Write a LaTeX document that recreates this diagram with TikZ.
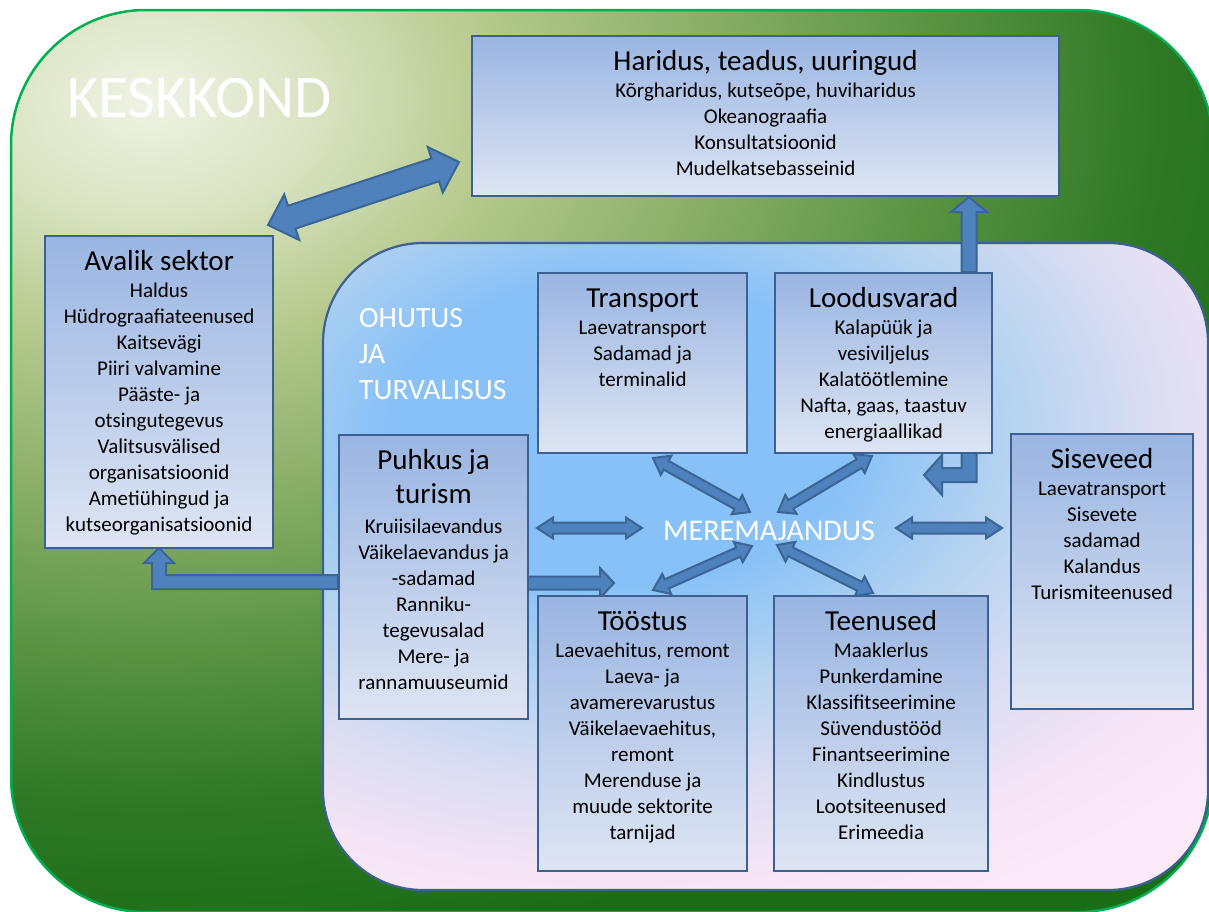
\documentclass[tikz,border=0pt]{standalone}
\usepackage{fontspec}
\setmainfont{Carlito}
\usetikzlibrary{calc}
\definecolor{boxborder}{RGB}{60,96,146}
\definecolor{boxtop}{RGB}{154,181,226}
\definecolor{boxbot}{RGB}{222,229,243}
\definecolor{arrfill}{RGB}{79,129,189}
\definecolor{arrdraw}{RGB}{58,101,149}
\definecolor{outerborder}{RGB}{0,176,80}
\definecolor{ko0}{HTML}{EFF3E4}
\definecolor{ko1}{HTML}{D9E3C2}
\definecolor{ko2}{HTML}{B8CB90}
\definecolor{ko3}{HTML}{8BAF69}
\definecolor{ko4}{HTML}{5A9443}
\definecolor{ko5}{HTML}{2E7825}
\definecolor{ko6}{HTML}{1B6C17}
\definecolor{ib0}{HTML}{88C1F7}
\definecolor{ib1}{HTML}{B5D3F0}
\definecolor{ib2}{HTML}{DCDDF2}
\definecolor{ib3}{HTML}{F3E4F6}
\definecolor{ib4}{HTML}{FCE9F8}
\pgfdeclareradialshading{keskshade}{\pgfpoint{0bp}{0bp}}{%
 color(0bp)=(ko0); color(2.1bp)=(ko1); color(4.2bp)=(ko2); color(7bp)=(ko3);
 color(9.8bp)=(ko4); color(12.6bp)=(ko5); color(15.4bp)=(ko6); color(50bp)=(ko6)}
\pgfdeclareradialshading{innershade}{\pgfpoint{0bp}{0bp}}{%
 color(0bp)=(ib0); color(4.8bp)=(ib0); color(8.1bp)=(ib1); color(11.2bp)=(ib2);
 color(13.8bp)=(ib3); color(16.5bp)=(ib4); color(50bp)=(ib4)}
\newcommand\titlef{\fontsize{29}{34}\selectfont}
\newcommand\itemf{\fontsize{21}{26}\selectfont}
\newcommand\dblarrow[5]{%
 \filldraw[blockarrow] (#1)
 -- ($(#1)!#5pt!(#2)!#4pt!90:(#2)$)
 -- ($(#1)!#5pt!(#2)!#3pt!90:(#2)$)
 -- ($(#2)!#5pt!(#1)!#3pt!-90:(#1)$)
 -- ($(#2)!#5pt!(#1)!#4pt!-90:(#1)$)
 -- (#2)
 -- ($(#2)!#5pt!(#1)!#4pt!90:(#1)$)
 -- ($(#2)!#5pt!(#1)!#3pt!90:(#1)$)
 -- ($(#1)!#5pt!(#2)!#3pt!-90:(#2)$)
 -- ($(#1)!#5pt!(#2)!#4pt!-90:(#2)$)
 -- cycle;}
\newcommand\sglarrow[5]{%
 \filldraw[blockarrow] ($(#1)!#3pt!90:(#2)$)
 -- ($(#2)!#5pt!(#1)!#3pt!-90:(#1)$)
 -- ($(#2)!#5pt!(#1)!#4pt!-90:(#1)$)
 -- (#2)
 -- ($(#2)!#5pt!(#1)!#4pt!90:(#1)$)
 -- ($(#2)!#5pt!(#1)!#3pt!90:(#1)$)
 -- ($(#1)!#3pt!-90:(#2)$)
 -- cycle;}
\tikzset{
 blockarrow/.style={fill=arrfill, draw=arrdraw, line width=2pt, line join=miter},
 sector/.style={draw=boxborder, line width=2.2pt, top color=boxtop, bottom color=boxbot,
   inner sep=0pt, anchor=north west},
 boxtitle/.style={anchor=base, inner sep=0pt, font=\titlef, text=black},
 boxitems/.style={anchor=north, inner sep=0pt, align=center, font=\itemf, text=black},
 bigwhite/.style={text=white, inner sep=0pt}
}
\begin{document}
\begin{tikzpicture}[x=1pt,y=-1pt]
\useasboundingbox (0,0) rectangle (1209,911);
% outer area KESKKOND
\begin{scope}
 \clip[rounded corners=135] (11,10) rectangle (1213,912);
 \shade[shading=keskshade] (150,100) ellipse [x radius=2000, y radius=1400];
\end{scope}
\draw[outerborder, line width=2.5pt, rounded corners=135] (11,10) rectangle (1213,912);
\node[bigwhite, anchor=base west, font=\fontsize{60.5}{70}\selectfont] (keskkond) at (67,117) {KESKKOND};
% inner area
\begin{scope}
 \clip[rounded corners=100] (323,243) rectangle (1208,890);
 \shade[shading=innershade] (620,430) ellipse [x radius=1200, y radius=800];
\end{scope}
\draw[boxborder, line width=2.2pt, rounded corners=100] (323,243) rectangle (1208,890);
\node[bigwhite, anchor=north west, align=left, font=\fontsize{29.5}{36}\selectfont] (ohutus) at (359,301.8) {\strut OHUTUS\\JA\\TURVALISUS};
\node[bigwhite, anchor=base, font=\fontsize{30}{36}\selectfont] (mere) at (769,540) {MEREMAJANDUS};
% arrow end points
\coordinate (a1a) at (268,225); \coordinate (a1b) at (459,162);
\coordinate (a2a) at (969,272); \coordinate (a2b) at (969,197);
\coordinate (a5a) at (527,583); \coordinate (a5b) at (614,583);
\coordinate (a6a) at (537,528); \coordinate (a6b) at (642,528);
\coordinate (a7a) at (896,528); \coordinate (a7b) at (1002,528);
\coordinate (a8a) at (653,458); \coordinate (a8b) at (750,512);
\coordinate (a9a) at (872,456); \coordinate (a9b) at (778,512);
\coordinate (a10a) at (653,590); \coordinate (a10b) at (752,546);
\coordinate (a11a) at (777,545); \coordinate (a11b) at (873,593);
% arrows
\dblarrow{a1a}{a1b}{12}{24}{25}
\sglarrow{a2a}{a2b}{7.5}{18}{15}
\filldraw[blockarrow] (961.5,452) -- (961.5,468) -- (942,468) -- (942,455) -- (924,475)
 -- (942,495) -- (942,482) -- (976.5,482) -- (976.5,452) -- cycle;
\filldraw[blockarrow] (338,575) -- (166,575) -- (166,563) -- (174,563) -- (159,548)
 -- (144,563) -- (152,563) -- (152,589) -- (338,589) -- cycle;
\sglarrow{a5a}{a5b}{6.5}{15}{14}
\dblarrow{a6a}{a6b}{5.5}{10.5}{16}
\dblarrow{a7a}{a7b}{5.5}{10.5}{16}
\dblarrow{a8a}{a8b}{5}{11}{15}
\dblarrow{a9a}{a9b}{5}{11}{15}
\dblarrow{a10a}{a10b}{5}{11}{15}
\dblarrow{a11a}{a11b}{5}{11}{15}
% boxes
\node[sector, minimum width=587, minimum height=160] (haridus) at (471,35) {};
\node[boxtitle] at ($(haridus.north)+(0,35)$) {Haridus, teadus, uuringud};
\node[boxitems] at ($(haridus.north)+(0,44.3)$) {\strut Kõrgharidus, kutseõpe, huviharidus\\Okeanograafia\\Konsultatsioonid\\Mudelkatsebasseinid};

\node[sector, minimum width=228, minimum height=312] (avalik) at (44,235) {};
\node[boxtitle] at ($(avalik.north)+(0,35)$) {Avalik sektor};
\node[boxitems] at ($(avalik.north)+(0,44.3)$) {\strut Haldus\\Hüdrograafiateenused\\Kaitsevägi\\Piiri valvamine\\Pääste- ja\\otsingutegevus\\Valitsusvälised\\organisatsioonid\\Ametiühingud ja\\kutseorganisatsioonid};

\node[sector, minimum width=209, minimum height=180] (transport) at (537,272) {};
\node[boxtitle] at ($(transport.north)+(0,35)$) {Transport};
\node[boxitems] at ($(transport.north)+(0,44.3)$) {\strut Laevatransport\\Sadamad ja\\terminalid};

\node[sector, minimum width=217, minimum height=180] (lood) at (774,272) {};
\node[boxtitle] at ($(lood.north)+(0,35)$) {Loodusvarad};
\node[boxitems] at ($(lood.north)+(0,44.3)$) {\strut Kalapüük ja\\vesiviljelus\\Kalatöötlemine\\Nafta, gaas, taastuv\\energiaallikad};

\node[sector, minimum width=189, minimum height=284] (puhkus) at (338,434) {};
\node[anchor=north, inner sep=0pt, align=center, font=\titlef] at ($(puhkus.north)+(0,11.2)$) {\strut Puhkus ja\\turism};
\node[boxitems] at ($(puhkus.north)+(0,80.8)$) {\strut Kruiisilaevandus\\Väikelaevandus ja\\-sadamad\\Ranniku-\\tegevusalad\\Mere- ja\\rannamuuseumid};

\node[sector, minimum width=182, minimum height=275] (siseveed) at (1010,433) {};
\node[boxtitle] at ($(siseveed.north)+(0,35)$) {Siseveed};
\node[boxitems] at ($(siseveed.north)+(0,44.3)$) {\strut Laevatransport\\Sisevete\\sadamad\\Kalandus\\Turismiteenused};

\node[sector, minimum width=209, minimum height=275] (toostus) at (537,595) {};
\node[boxtitle] at ($(toostus.north)+(0,35)$) {Tööstus};
\node[boxitems] at ($(toostus.north)+(0,44.3)$) {\strut Laevaehitus, remont\\Laeva- ja\\avamerevarustus\\Väikelaevaehitus,\\remont\\Merenduse ja\\muude sektorite\\tarnijad};

\node[sector, minimum width=214, minimum height=275] (teenused) at (773,595) {};
\node[boxtitle] at ($(teenused.north)+(0,35)$) {Teenused};
\node[boxitems] at ($(teenused.north)+(0,44.3)$) {\strut Maaklerlus\\Punkerdamine\\Klassifitseerimine\\Süvendustööd\\Finantseerimine\\Kindlustus\\Lootsiteenused\\Erimeedia};
\end{tikzpicture}
\end{document}
